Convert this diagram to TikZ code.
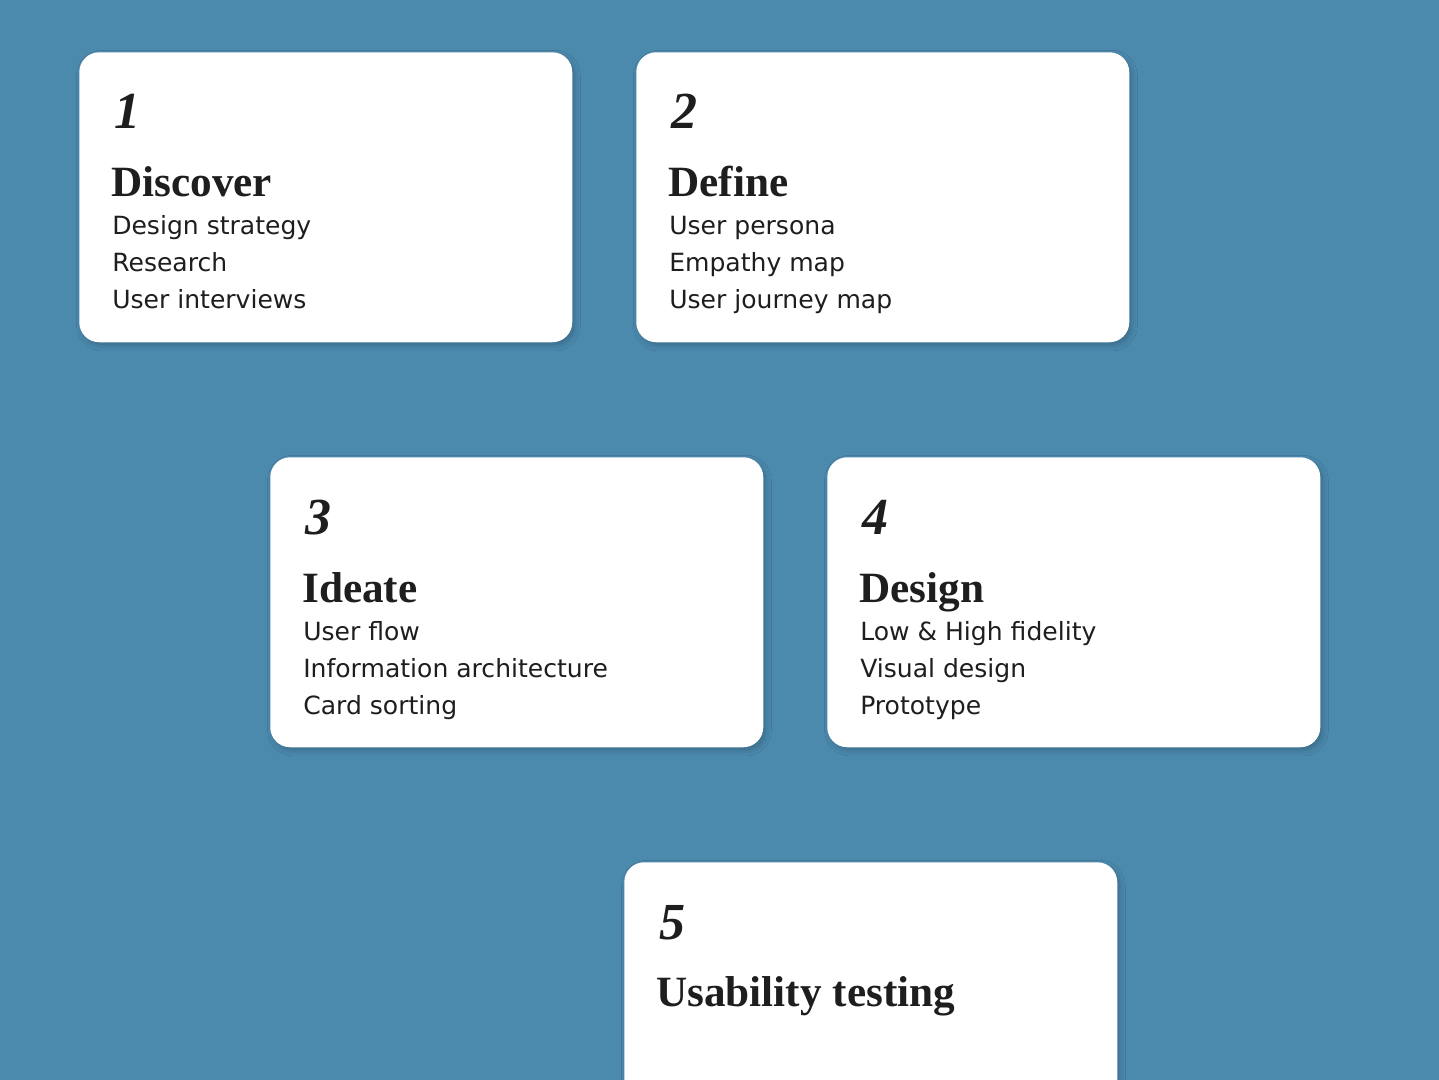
\documentclass[tikz,border=0pt]{standalone}
\usepackage{fontspec}
\setmainfont{Liberation Serif}
\newfontfamily\bodyfont{DejaVu Sans}
\usetikzlibrary{shadows.blur}
\definecolor{bgblue}{HTML}{4B89AD}
\definecolor{ink}{HTML}{1E1E1E}
\begin{document}
\begin{tikzpicture}[x=0.75pt,y=-0.75pt,
  card/.style={draw=none, fill=white, rounded corners=15pt, minimum width=369.75pt, minimum height=217.5pt, inner sep=0pt, anchor=north west,
    blur shadow={shadow xshift=2pt, shadow yshift=-2.5pt, shadow blur radius=4pt, shadow opacity=20}},
  num/.style={anchor=base west, inner sep=0pt, font=\fontsize{39}{39}\selectfont\bfseries\itshape, text=ink},
  head/.style={anchor=base west, inner sep=0pt, font=\fontsize{32.4}{32.4}\selectfont\bfseries, text=ink},
  item/.style={anchor=base west, inner sep=0pt, font=\bodyfont\fontsize{18.8}{18.8}\selectfont, text=ink}]
\useasboundingbox (0,0) rectangle (1439,1080);
\clip (0,0) rectangle (1439,1080);
\fill[bgblue] (0,0) rectangle (1439,1080);
% card 1
\node[card] (c1) at (79,52) {};
\node[num] (n1) at (114,129) {1};
\node[head] (h1) at (111,197) {Discover};
\node[item] (i11) at (112,235) {Design strategy};
\node[item] (i12) at (112,272) {Research};
\node[item] (i13) at (112,309) {User interviews};
% card 2
\node[card] (c2) at (636,52) {};
\node[num] (n2) at (671,129) {2};
\node[head] (h2) at (668,197) {Define};
\node[item] (i21) at (669,235) {User persona};
\node[item] (i22) at (669,272) {Empathy map};
\node[item] (i23) at (669,309) {User journey map};
% card 3
\node[card] (c3) at (270,457) {};
\node[num] (n3) at (305,534) {3};
\node[head] (h3) at (302,602) {Ideate};
\node[item] (i31) at (303,640) {User flow};
\node[item] (i32) at (303,677) {Information architecture};
\node[item] (i33) at (303,714) {Card sorting};
% card 4
\node[card] (c4) at (827,457) {};
\node[num] (n4) at (862,534) {4};
\node[head] (h4) at (859,602) {Design};
\node[item] (i41) at (860,640) {Low \& High fidelity};
\node[item] (i42) at (860,677) {Visual design};
\node[item] (i43) at (860,714) {Prototype};
% card 5
\node[card] (c5) at (624,862) {};
\node[num] (n5) at (659,939) {5};
\node[head] (h5) at (656,1006) {Usability testing};
\end{tikzpicture}
\end{document}
